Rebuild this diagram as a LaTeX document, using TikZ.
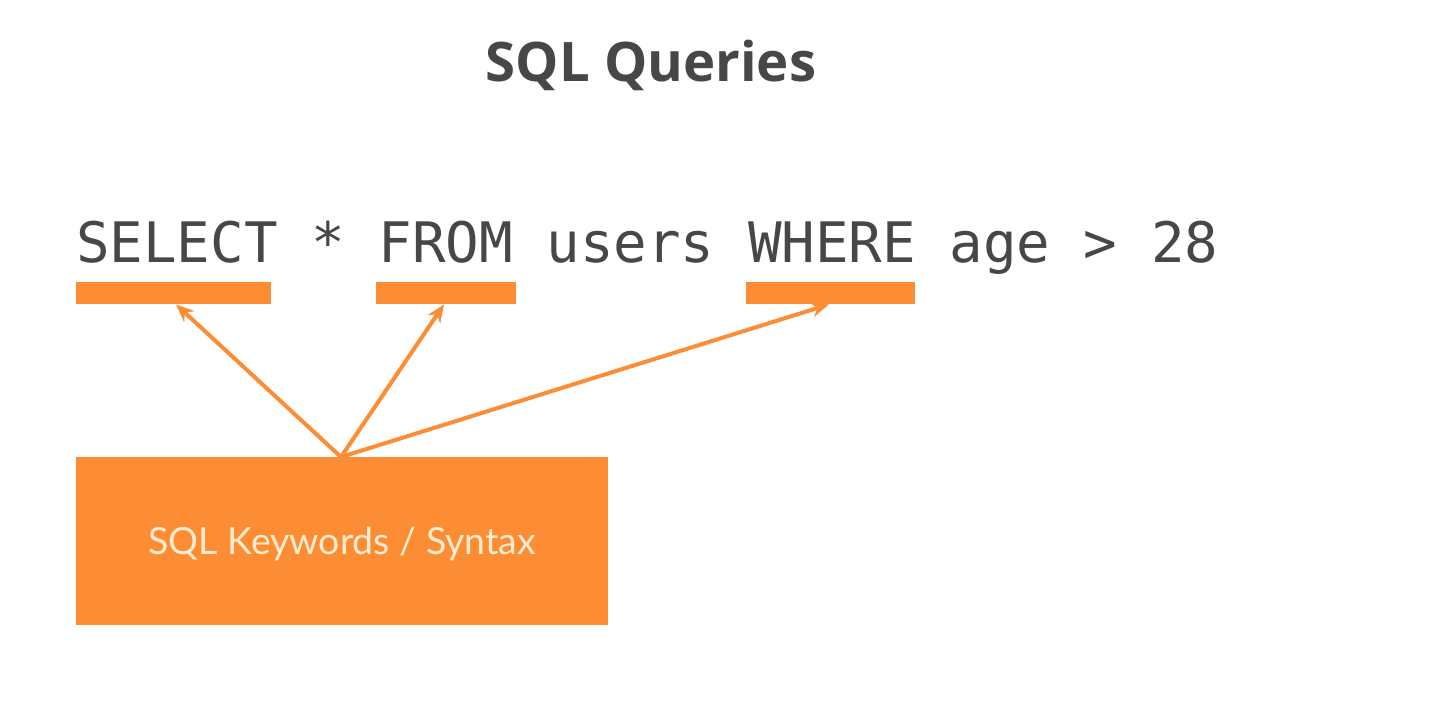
\documentclass[tikz,border=0pt]{standalone}
\usepackage{fontspec}
\usetikzlibrary{arrows.meta,calc}
\setmainfont{Open Sans}
\newfontfamily\codefont{DejaVu Sans Mono}
\newfontfamily\boxfont{Lato}
\definecolor{sqlorange}{HTML}{FD8D35}
\definecolor{sqlgray}{HTML}{474747}
\definecolor{sqlcream}{HTML}{FFEBCF}
\tikzset{
  bar/.style={fill=sqlorange, draw=none, inner sep=0pt, anchor=north west, minimum height=22pt},
  kwbox/.style={fill=sqlorange, draw=none, inner sep=0pt, anchor=north west, minimum width=532pt, minimum height=168pt, text=sqlcream, text height=27pt, text depth=0pt, font=\boxfont\fontsize{37.4}{40}\selectfont},
  pointer/.style={draw=sqlorange, line width=4pt, -{Stealth[length=18pt,width=15pt,inset=6pt]}},
}
\begin{document}
\begin{tikzpicture}[x=1pt,y=-1pt]
\useasboundingbox[fill=white] (0,0) rectangle (1447,710);
\node[font=\bfseries\fontsize{54.5}{58}\selectfont, text=sqlgray, anchor=base] (title) at (651,81) {SQL Queries};
\node[font=\codefont\fontsize{55.8}{58}\selectfont, text=sqlgray, anchor=base west, inner sep=0pt] (code) at (76,262) {SELECT * FROM users WHERE age > 28};
\node[bar, minimum width=195pt] (b1) at (76,282) {};
\node[bar, minimum width=140pt] (b2) at (376,282) {};
\node[bar, minimum width=169pt] (b3) at (746,282) {};
\node[kwbox] (kw) at (76,457) {SQL Keywords / Syntax};
\coordinate (o) at ($(kw.north west)+(265,0)$);
\coordinate (t1) at ($(b1.south west)+(100,0)$);
\coordinate (t2) at ($(b2.south west)+(68,0)$);
\coordinate (t3) at ($(b3.south west)+(83,0)$);
\draw[pointer] (o) -- (t1);
\draw[pointer] (o) -- (t2);
\draw[pointer] (o) -- (t3);
\end{tikzpicture}
\end{document}
